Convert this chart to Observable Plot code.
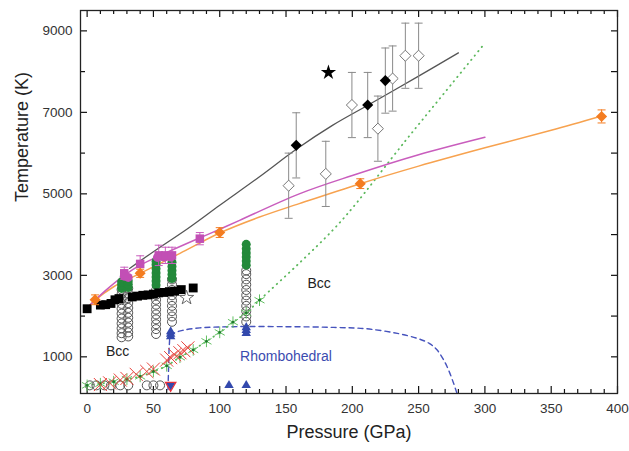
<!DOCTYPE html>
<html>
<head>
<meta charset="utf-8">
<script src="https://cdn.jsdelivr.net/npm/d3@7"></script>
<script src="https://cdn.jsdelivr.net/npm/@observablehq/plot@0.6"></script>
<style>
  body { margin: 0; background: #fff; }
</style>
</head>
<body>
<div id="chart"></div>
<script>
// Pressure in GPa, temperature in K.

// Melting / phase-boundary curves
const blackLineP = [32, 50, 76, 100, 130, 158, 185, 212, 250, 280];
const blackLineT = [3170, 3580, 4150, 4720, 5420, 6100, 6680, 7180, 7890, 8460];

const magentaLineP = [0, 14, 28, 40, 60, 85, 100, 115, 160, 200, 250, 300];
const magentaLineT = [2200, 2630, 3000, 3250, 3560, 3920, 4130, 4350, 5000, 5450, 5960, 6390];

const orangeLineP = [0, 6, 20, 40, 70, 100, 130, 160, 206, 250, 300, 350, 388];
const orangeLineT = [2200, 2390, 2720, 3050, 3540, 4040, 4430, 4760, 5250, 5680, 6130, 6560, 6910];

const greenDotP = [160, 185, 200, 240, 270, 300];
const greenDotT = [3300, 4100, 4650, 6300, 7500, 8700];

const rhombP = [61, 61.5, 62, 63, 66, 72, 85, 110, 150, 186, 211, 234, 249, 258, 264, 271.5, 279];
const rhombT = [200, 800, 1300, 1530, 1590, 1650, 1710, 1740, 1740, 1722, 1688, 1575, 1453, 1330, 1166, 757, 100];

// Green asterisks (joined by the dotted line)
const asteriskP = [0, 10, 20, 30, 40, 50, 60, 70, 80, 90, 100, 110, 120, 130];
const asteriskT = [300, 340, 390, 450, 520, 640, 780, 990, 1170, 1380, 1600, 1850, 2080, 2390];

// Red crosses
const crossP = [10, 17, 25, 30, 37, 45, 50, 60, 63, 66, 70, 73, 76];
const crossT = [320, 360, 430, 470, 570, 640, 700, 920, 980, 1050, 1100, 1150, 1220];

// Open circles: columns and the room-temperature row
const openColumns = [
  {p: 26, t: [1480, 1580, 1700, 1820, 1940, 2060, 2180, 2300, 2420, 2540, 2650]},
  {p: 31, t: [1500, 1600, 1720, 1840, 1960, 2080, 2200, 2320, 2440, 2560, 2680]},
  {p: 52, t: [1560, 1680, 1800, 1920, 2040, 2160, 2280, 2400, 2520, 2640]},
  {p: 64, t: [1860, 1990, 2120, 2250, 2380, 2510, 2640, 2770, 2900]},
  {p: 120, t: [1860, 1990, 2120, 2250, 2380, 2510, 2640, 2770, 2900, 3030, 3120]}
];
const openRowP = [2, 7, 13, 18, 25, 31, 45, 50, 55];
const openRowT = [300, 300, 300, 300, 300, 300, 300, 300, 300];

// Green filled circles
const greenColumns = [
  {p: 26, t: [2680, 2760, 2840]},
  {p: 31, t: [2700, 2780, 2860]},
  {p: 52, t: [2760, 2860, 2960, 3060, 3160, 3260, 3340]},
  {p: 64, t: [2920, 3020, 3120, 3220, 3320]},
  {p: 120, t: [3250, 3350, 3450, 3550, 3650, 3760]}
];

// Black squares
const squareP = [0, 10, 14, 18, 21, 24, 34, 38, 42, 46, 50, 54, 58, 62, 66, 71, 80];
const squareT = [2180, 2270, 2280, 2310, 2400, 2430, 2470, 2490, 2510, 2520, 2540, 2570, 2580, 2600, 2610, 2650, 2690];

// Magenta squares (with errors) and circles
const magSquareP = [28, 40, 54, 59, 64, 85];
const magSquareT = [3050, 3280, 3490, 3490, 3490, 3900];
const magSquareErr = [150, 200, 250, 200, 200, 150];
const magCircleP = [28, 31, 53, 58, 63];
const magCircleT = [2980, 2950, 3440, 3450, 3450];

// Orange diamonds
const orangeP = [6, 40, 100, 206, 388];
const orangeT = [2400, 3050, 4050, 5250, 6900];
const orangeErr = [120, 100, 120, 120, 160];

// Shock data: filled and open diamonds
const blackDiamondP = [157.7, 211.6, 224.9];
const blackDiamondT = [6190, 7180, 7780];
const blackDiamondErr = [800, 800, 800];
const openDiamondP = [152, 180, 199.7, 219.3, 230.4, 240, 250];
const openDiamondT = [5200, 5490, 7180, 6600, 7830, 8390, 8390];
const openDiamondErr = [800, 800, 800, 800, 800, 800, 800];

// Stars
const blackStarP = [182];
const blackStarT = [7980];
const openStarP = [75];
const openStarT = [2450];

// Blue triangles
const triUpP = [63, 63, 63, 120, 120, 120, 107, 120];
const triUpT = [1500, 1560, 1620, 1580, 1650, 1720, 300, 300];
const triDownP = [63];
const triDownT = [300];

// Phase labels
const phaseLabels = [
  {p: 23, t: 1120, text: "Bcc", color: "#222"},
  {p: 175, t: 2800, text: "Bcc", color: "#222"},
  {p: 150, t: 1000, text: "Rhombohedral", color: "#3b4cb0"}
];

// Axis ticks
const xMajor = d3.range(0, 401, 50);
const xMinor = d3.range(0, 401, 10).filter(v => v % 50 !== 0);
const yMajor = [1000, 3000, 5000, 7000, 9000];
const yMinor = [2000, 4000, 6000, 8000];
const yAll = d3.range(1000, 9001, 1000);

// Frame geometry
const W = 629, H = 451, mL = 80, mR = 12, mT = 10, mB = 58;
const xDomain = [-5, 400];
const yDomain = [100, 9500];
// data units per pixel, used to give the inward ticks a fixed pixel length
const kx = (xDomain[1] - xDomain[0]) / (W - mL - mR);
const ky = (yDomain[1] - yDomain[0]) / (H - mT - mB);

const zip = (P, T, extra = {}) => P.map((p, i) => {
  const o = {p, t: T[i]};
  for (const k in extra) o[k] = extra[k][i];
  return o;
});
const flatCols = cols => cols.flatMap(c => c.t.map(t => ({p: c.p, t})));

// short horizontal stroke used as an error-bar cap
const cap = {draw(ctx) { ctx.moveTo(-4, 0); ctx.lineTo(4, 0); }};

const tc = "#111";
const tw = 1.2;
const ticksX = (ticks, side, len) => side === "bottom"
  ? Plot.ruleX(ticks, {x: d => d, y1: yDomain[0], y2: yDomain[0] + len * ky, stroke: tc, strokeWidth: tw})
  : Plot.ruleX(ticks, {x: d => d, y1: yDomain[1] - len * ky, y2: yDomain[1], stroke: tc, strokeWidth: tw});
const ticksY = (ticks, side, len) => side === "left"
  ? Plot.ruleY(ticks, {y: d => d, x1: xDomain[0], x2: xDomain[0] + len * kx, stroke: tc, strokeWidth: tw})
  : Plot.ruleY(ticks, {y: d => d, x1: xDomain[1] - len * kx, x2: xDomain[1], stroke: tc, strokeWidth: tw});

const blackLine = zip(blackLineP, blackLineT);
const magentaLine = zip(magentaLineP, magentaLineT);
const orangeLine = zip(orangeLineP, orangeLineT);
const greenLine = zip(asteriskP, asteriskT).concat(zip(greenDotP, greenDotT));
const rhombLine = zip(rhombP, rhombT);
const asterisks = zip(asteriskP, asteriskT);
const crosses = zip(crossP, crossT);
const openCircles = flatCols(openColumns).concat(zip(openRowP, openRowT));
const greenCircles = flatCols(greenColumns);
const squares = zip(squareP, squareT);
const magSquares = zip(magSquareP, magSquareT, {e: magSquareErr});
const magCircles = zip(magCircleP, magCircleT);
const oranges = zip(orangeP, orangeT, {e: orangeErr});
const blackDiamonds = zip(blackDiamondP, blackDiamondT, {e: blackDiamondErr});
const openDiamonds = zip(openDiamondP, openDiamondT, {e: openDiamondErr});
const shock = openDiamonds.concat(blackDiamonds);

const errorBars = (data, color, width = 1) => [
  Plot.ruleX(data, {x: "p", y1: d => d.t - d.e, y2: d => d.t + d.e, stroke: color, strokeWidth: width}),
  Plot.dot(data, {x: "p", y: d => d.t - d.e, symbol: cap, r: 4, fill: "none", stroke: color, strokeWidth: width}),
  Plot.dot(data, {x: "p", y: d => d.t + d.e, symbol: cap, r: 4, fill: "none", stroke: color, strokeWidth: width})
];

const chart = Plot.plot({
  width: W,
  height: H,
  marginLeft: mL,
  marginRight: mR,
  marginTop: mT,
  marginBottom: mB,
  style: {fontFamily: "'Liberation Sans', Arial, sans-serif", fontSize: "13.5px", color: "#333", background: "#fff"},
  x: {domain: xDomain},
  y: {domain: yDomain},
  marks: [
    // tick labels
    Plot.axisX(xMajor, {anchor: "bottom", tickSize: 0, tickPadding: 10, label: null, fill: "#333", fontSize: 13.5}),
    Plot.axisY(yMajor, {anchor: "left", tickSize: 0, tickPadding: 8, label: null, tickFormat: d => String(d), fill: "#333", fontSize: 13.5}),
    // inward ticks on all four sides
    ticksX(xMajor, "bottom", 7),
    ticksX(xMinor, "bottom", 4),
    ticksX(xMajor, "top", 7),
    ticksX(xMinor, "top", 4),
    ticksY(yMajor, "left", 7),
    ticksY(yMinor, "left", 5),
    ticksY(yAll, "right", 6),

    // boundaries
    Plot.line(rhombLine, {x: "p", y: "t", stroke: "#4653bd", strokeWidth: 1.4, strokeDasharray: "5,4", curve: "catmull-rom"}),
    Plot.line(greenLine, {x: "p", y: "t", stroke: "#5cb85c", strokeWidth: 1.8, strokeDasharray: "0.5,5", strokeLinecap: "round", curve: "catmull-rom"}),
    Plot.line(orangeLine, {x: "p", y: "t", stroke: "#f7a24f", strokeWidth: 1.5, curve: "catmull-rom"}),
    Plot.line(magentaLine, {x: "p", y: "t", stroke: "#c95dbd", strokeWidth: 1.5, curve: "catmull-rom"}),
    Plot.line(blackLine, {x: "p", y: "t", stroke: "#555", strokeWidth: 1.3, curve: "catmull-rom"}),

    // static-compression points
    Plot.dot(openCircles, {x: "p", y: "t", r: 4.5, fill: "none", stroke: "#555", strokeWidth: 1}),
    Plot.dot(greenCircles, {x: "p", y: "t", r: 4.5, fill: "#23893a"}),
    Plot.dot(squares, {x: "p", y: "t", symbol: "square", r: 5, fill: "#000"}),
    Plot.dot(zip(openStarP, openStarT), {x: "p", y: "t", symbol: "star", r: 4.5, fill: "#fff", stroke: "#666", strokeWidth: 1}),
    Plot.dot(asterisks, {x: "p", y: "t", symbol: "asterisk", r: 5.5, stroke: "#63c063", strokeWidth: 1}),
    Plot.dot(asterisks, {x: "p", y: "t", r: 1.4, fill: "#1d7a2c"}),
    Plot.dot(crosses, {x: "p", y: "t", symbol: "times", r: 6, stroke: "#e8413a", strokeWidth: 1}),

    // triangles
    Plot.dot(zip(triUpP, triUpT), {x: "p", y: "t", symbol: "triangle2", r: 4.5, fill: "#3349ad"}),
    Plot.dot(zip(triDownP, triDownT), {x: "p", y: "t", symbol: "triangle2", rotate: 180, r: 4.5, fill: "#3349ad"}),
    Plot.dot(zip(triDownP, triDownT), {x: "p", y: "t", symbol: "triangle2", rotate: 180, r: 5, fill: "none", stroke: "#e8303a", strokeWidth: 1.2}),

    // magenta and orange data with error bars
    ...errorBars(magSquares, "#c95dbd"),
    Plot.dot(magCircles, {x: "p", y: "t", r: 4.5, fill: "#c24fb5"}),
    Plot.dot(magSquares, {x: "p", y: "t", symbol: "square", r: 4.8, fill: "#c24fb5"}),
    ...errorBars(oranges, "#f47c20"),
    Plot.dot(oranges, {x: "p", y: "t", symbol: "diamond2", r: 5, fill: "#f47c20"}),

    // shock data
    ...errorBars(shock, "#8a8a8a"),
    Plot.dot(openDiamonds, {x: "p", y: "t", symbol: "diamond2", r: 5, fill: "#fff", stroke: "#777", strokeWidth: 1}),
    Plot.dot(blackDiamonds, {x: "p", y: "t", symbol: "diamond2", r: 5, fill: "#000"}),
    Plot.dot(zip(blackStarP, blackStarT), {x: "p", y: "t", symbol: "star", r: 4.8, fill: "#000"}),

    // phase labels
    Plot.text(phaseLabels, {x: "p", y: "t", text: "text", fill: "color", fontSize: 14}),

    // axis titles
    Plot.text(["Pressure (GPa)"], {text: d => d, frameAnchor: "bottom", dy: 44, fontSize: 18, fill: "#222"}),
    Plot.text(["Temperature (K)"], {text: d => d, frameAnchor: "left", dx: -58, rotate: -90, fontSize: 18, fill: "#222"}),

    Plot.frame({stroke: "#222", strokeWidth: 1.3})
  ]
});
document.getElementById("chart").appendChild(chart);
</script>
</body>
</html>
